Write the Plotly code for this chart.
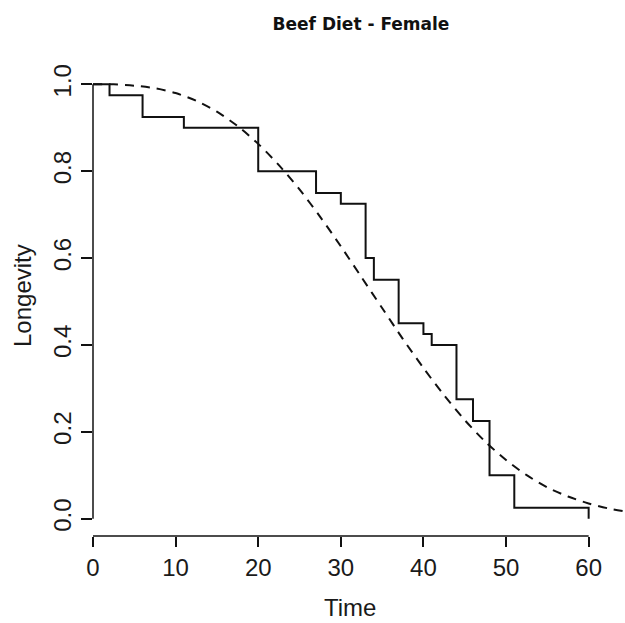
import plotly.graph_objects as go

# Kaplan-Meier survival estimate (step function)
km_time = [0, 2, 6, 11, 20, 27, 30, 33, 34, 37, 40, 41, 44, 46, 48, 51, 60]
km_surv = [1.0, 0.975, 0.925, 0.9, 0.8, 0.75, 0.725, 0.6, 0.55, 0.45,
           0.425, 0.4, 0.275, 0.225, 0.1, 0.025, 0.0]

# Fitted parametric survival curve
fit_time = [0, 2.5, 5, 7.5, 10, 12.5, 15, 17.5, 20, 22.5, 25, 27.5, 30, 32.5,
            35, 37.5, 40, 42.5, 45, 47.5, 50, 52.5, 55, 57.5, 60, 62.5, 65]
fit_surv = [1.0, 1.0, 0.997, 0.991, 0.980, 0.962, 0.937, 0.904, 0.863, 0.814,
            0.758, 0.695, 0.627, 0.556, 0.485, 0.414, 0.347, 0.284, 0.227,
            0.177, 0.135, 0.100, 0.072, 0.051, 0.035, 0.023, 0.015]

x_ticks = [0, 10, 20, 30, 40, 50, 60]
y_ticks = [0.0, 0.2, 0.4, 0.6, 0.8, 1.0]
y_tick_text = ["0.0", "0.2", "0.4", "0.6", "0.8", "1.0"]

INK = "#111111"
TICK_FONT = dict(family="Liberation Sans, Arial, sans-serif", size=24, color="#1a1a1a")

W, H = 625, 623
M_L, M_R, M_T, M_B = 93, 0, 67, 87
PLOT_W = W - M_L - M_R
PLOT_H = H - M_T - M_B


def paper_x(px):
    return (px - M_L) / PLOT_W


def paper_y(py):
    return (H - M_B - py) / PLOT_H


fig = go.Figure()

fig.add_trace(go.Scatter(
    x=km_time, y=km_surv, mode="lines",
    line=dict(color=INK, width=2, shape="hv"),
    showlegend=False, hoverinfo="skip",
))

fig.add_trace(go.Scatter(
    x=fit_time, y=fit_surv, mode="lines",
    line=dict(color=INK, width=2, dash="9px,7px", shape="spline", smoothing=0.8),
    showlegend=False, hoverinfo="skip",
))

# R-style axis lines that only span the tick range
fig.add_shape(type="line", xref="x", yref="paper",
              x0=x_ticks[0], x1=x_ticks[-1], y0=0, y1=0,
              line=dict(color=INK, width=1.5))
fig.add_shape(type="line", xref="paper", yref="y",
              x0=0, x1=0, y0=y_ticks[0], y1=y_ticks[-1],
              line=dict(color=INK, width=1.5))

fig.update_layout(
    width=W, height=H,
    margin=dict(l=M_L, r=M_R, t=M_T, b=M_B),
    paper_bgcolor="white", plot_bgcolor="white",
    title=dict(
        text="<b>Beef Diet - Female</b>",
        font=dict(family="DejaVu Sans, sans-serif", size=17, color="#111111"),
        xref="container", yref="container",
        x=361 / W, y=1 - 24 / H, xanchor="center", yanchor="middle",
    ),
    xaxis=dict(
        range=[0, 64.4], showgrid=False, zeroline=False, showline=False,
        ticks="outside", ticklen=10, tickwidth=1.5, tickcolor=INK,
        tickvals=x_ticks, tickfont=TICK_FONT,
    ),
    yaxis=dict(
        range=[-0.04, 1.04], showgrid=False, zeroline=False, showline=False,
        ticks="outside", ticklen=11, tickwidth=1.5, tickcolor=INK,
        tickvals=y_ticks, ticktext=y_tick_text, tickangle=-90, tickfont=TICK_FONT,
    ),
    annotations=[
        dict(text="Time", showarrow=False,
             xref="paper", yref="paper",
             x=paper_x(350), y=paper_y(607), xanchor="center", yanchor="middle",
             font=TICK_FONT),
        dict(text="Longevity", showarrow=False, textangle=-90,
             xref="paper", yref="paper",
             x=paper_x(22), y=paper_y(296), xanchor="center", yanchor="middle",
             font=TICK_FONT),
    ],
)

fig.write_html("out.html")
